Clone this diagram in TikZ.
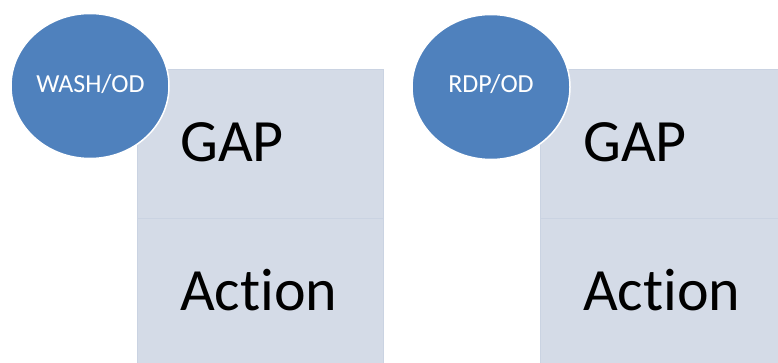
\documentclass[tikz,border=0pt]{standalone}
\usepackage{fontspec}
\setmainfont[Ligatures=NoCommon]{Carlito}
\usetikzlibrary{shapes.geometric}
\definecolor{circblue}{HTML}{4F81BD}
\definecolor{boxfill}{HTML}{D4DBE7}
\definecolor{boxline}{HTML}{CAD3E2}
\begin{document}
\begin{tikzpicture}[x=1pt,y=-1pt,
  panel/.style={fill=boxfill,draw=boxline,line width=1pt},
  badge/.style={ellipse,fill=circblue,draw=white,line width=1.5pt,minimum width=158pt,minimum height=145pt,inner sep=0pt},
  badgetext/.style={text=white,font=\fontsize{26}{30}\selectfont},
  bigtext/.style={anchor=base west,inner sep=0pt,font=\fontsize{60}{66}\selectfont}]
\useasboundingbox (0,0) rectangle (778,363);
% left group
\path[panel] (137,70) rectangle (383,219);
\path[panel] (137,219) rectangle (383,366);
\node[bigtext] (gapL) at (180,162) {GAP};
\node[bigtext] (actL) at (180,310) {Action};
\node[badge] (cL) at (90,86) {};
\node[badgetext,anchor=base] (tL) at (90.5,93) {WASH/OD};
% right group
\path[panel] (540,70) rectangle (780,219);
\path[panel] (540,219) rectangle (780,366);
\node[bigtext] (gapR) at (583,162) {GAP};
\node[bigtext] (actR) at (583,310) {Action};
\node[badge] (cR) at (491,87) {};
\node[badgetext,anchor=base] (tR) at (491,93) {RDP/OD};
\end{tikzpicture}
\end{document}
